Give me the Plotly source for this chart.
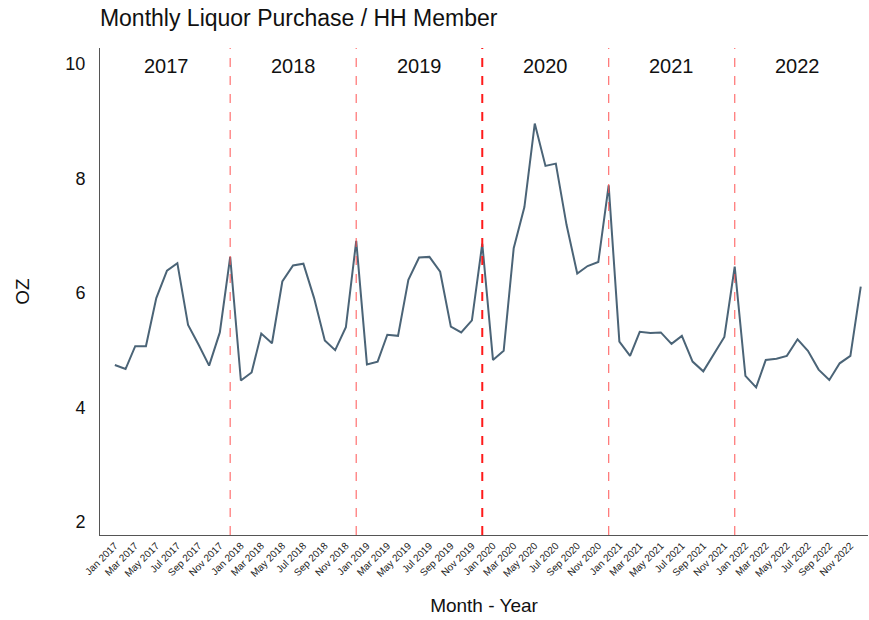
"""Monthly liquor purchase per household member, 2017-2022."""
import pandas as pd
import plotly.graph_objects as go

months = pd.date_range("2017-01-01", "2022-12-01", freq="MS")

oz_2017 = [4.74, 4.67, 5.07, 5.07, 5.91, 6.39, 6.52, 5.44, 5.09, 4.73, 5.31, 6.63]
oz_2018 = [4.47, 4.61, 5.29, 5.12, 6.20, 6.48, 6.51, 5.91, 5.17, 5.00, 5.40, 6.91]
oz_2019 = [4.75, 4.80, 5.27, 5.25, 6.23, 6.62, 6.63, 6.37, 5.41, 5.31, 5.52, 6.86]
oz_2020 = [4.83, 4.99, 6.78, 7.50, 8.96, 8.22, 8.26, 7.19, 6.34, 6.47, 6.54, 7.88]
oz_2021 = [5.15, 4.90, 5.32, 5.30, 5.31, 5.11, 5.25, 4.80, 4.63, 4.93, 5.23, 6.46]
oz_2022 = [4.55, 4.35, 4.83, 4.85, 4.90, 5.19, 4.99, 4.66, 4.48, 4.77, 4.90, 6.11]
oz = oz_2017 + oz_2018 + oz_2019 + oz_2020 + oz_2021 + oz_2022

years = ["2017", "2018", "2019", "2020", "2021", "2022"]
# dashed separators sit on each December peak
separators = ["2017-12-01", "2018-12-01", "2019-12-01", "2020-12-01", "2021-12-01"]
tick_vals = [d for d in months if d.month % 2 == 1]

FONT = "Liberation Sans, Arial, Helvetica, sans-serif"

fig = go.Figure(go.Scatter(
    x=months, y=oz, mode="lines",
    line=dict(color="#4b6477", width=2),
    hoverinfo="skip", showlegend=False))

for d in separators:
    strong = d.startswith("2019")
    fig.add_vline(x=pd.Timestamp(d).timestamp() * 1000,
                  line=dict(color="#ff1a1a" if strong else "rgba(255,80,80,0.75)",
                            width=2 if strong else 1.3, dash="dash"),
                  layer="above")

for y in years:
    fig.add_annotation(x=f"{y}-06-01", y=9.96, xref="x", yref="y",
                       text=y, showarrow=False,
                       font=dict(size=20, color="#111", family=FONT))

fig.update_layout(
    width=869, height=620,
    margin=dict(l=100, r=1, t=48, b=85),
    paper_bgcolor="white", plot_bgcolor="white",
    font=dict(family=FONT, color="#111"),
    title=dict(text="Monthly Liquor Purchase / HH Member", x=0.115,
               xanchor="left", y=0.971, yanchor="middle",
               font=dict(size=23, color="#111", family=FONT)),
)
fig.update_xaxes(
    range=["2016-11-19", "2022-12-22"], automargin=False,
    tickvals=tick_vals, ticktext=[d.strftime("%b %Y") for d in tick_vals],
    tickangle=-45, tickfont=dict(size=10, color="#222"),
    showgrid=False, zeroline=False,
    showline=True, linecolor="#555", linewidth=1,
    title=dict(text="Month - Year", font=dict(size=19), standoff=20),
)
fig.update_yaxes(
    range=[1.77, 10.28], tickvals=[2, 4, 6, 8, 10], automargin=False,
    tickfont=dict(size=18, color="#111"),
    showgrid=False, zeroline=False,
    showline=True, linecolor="#555", linewidth=1,
    ticks="", ticklabelstandoff=10,
    title=dict(text="OZ", font=dict(size=19), standoff=30),
)

# drop the browser's default body margin so the figure sits at the page corner
fig.write_html("out.html", config={"displayModeBar": False},
               post_script="document.body.style.margin='0';")
